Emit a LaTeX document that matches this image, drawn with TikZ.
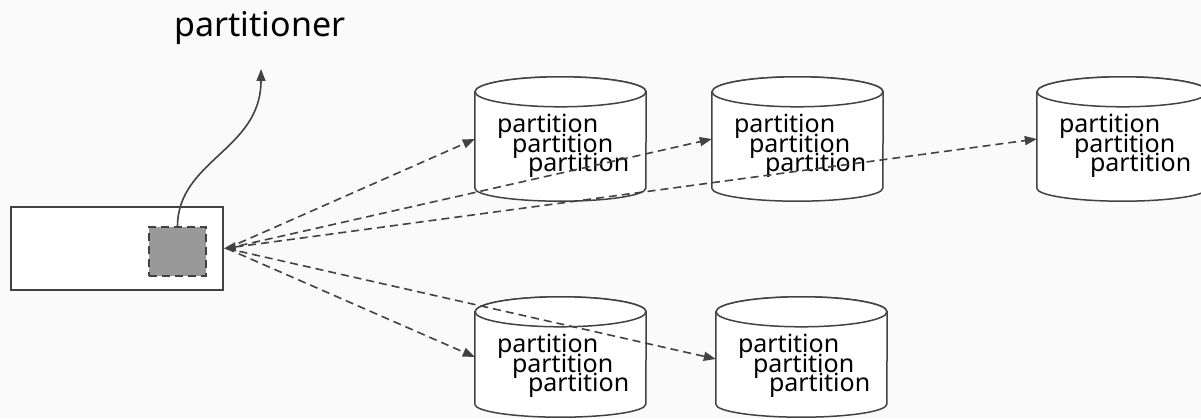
\documentclass[tikz,border=0pt]{standalone}
\usepackage{fontspec}
\setmainfont{Noto Sans}
\usetikzlibrary{arrows.meta}

\definecolor{bgcol}{HTML}{FAFAFA}
\definecolor{inkcol}{HTML}{424242}
\definecolor{blockcol}{HTML}{999999}

% tight leading that lets the stacked labels overlap
\newcommand{\stackfont}{\fontsize{25}{19.5}\selectfont\lineskiplimit-50pt\relax}

\tikzset{
  outline/.style={draw=inkcol, line width=1.5pt, fill=white},
  drumbox/.style={rectangle, inner sep=0pt, minimum width=171pt},
  drumtext/.style={anchor=base west, align=left, inner sep=0pt,
    font=\stackfont, text=black},
  flow/.style={draw=inkcol, line width=1.6pt, dash pattern=on 8pt off 5pt,
    -{Triangle[length=12pt,width=9pt]}},
  curvearrow/.style={draw=inkcol, line width=1.6pt,
    -{Triangle[length=12pt,width=9pt]}},
}

% cylinder outline around a named box: full top ellipse, half bottom ellipse
\newcommand{\drumoutline}[1]{%
  \draw[outline] ([yshift=-15pt]#1.north west) -- ([yshift=13pt]#1.south west)
    arc[start angle=180, end angle=360, x radius=85.5pt, y radius=13pt]
    -- ([yshift=-15pt]#1.north east)
    arc[start angle=0, end angle=180, x radius=85.5pt, y radius=15pt] -- cycle;
  \draw[outline] ([yshift=-15pt]#1.north) ellipse [x radius=85.5pt, y radius=15pt];
}
% three staggered labels; the base anchor sits on the last line
\newcommand{\drumlabel}[2]{%
  \node[drumtext] (#2) at ([xshift=22pt, yshift=-95pt]#1.north west)
    {partition\\\hspace*{15pt}partition\\\hspace*{31pt}partition};
}

\begin{document}
\begin{tikzpicture}[x=1pt, y=1pt]
  \fill[bgcol] (0,0) rectangle (1201,418);
  \useasboundingbox (0,0) rectangle (1201,418);

  % title
  \node[anchor=base, inner sep=0pt, font=\fontsize{34}{40}\selectfont] (title)
    at (260,381) {partitioner};

  % producer block with its partitioner part
  \node[rectangle, draw=inkcol, line width=1.5pt, fill=white,
        minimum width=212pt, minimum height=83pt, inner sep=0pt] (prod) at (117,169.5) {};
  \node[rectangle, draw=inkcol, line width=1.5pt, fill=blockcol,
        dash pattern=on 8pt off 5pt,
        minimum width=57pt, minimum height=49pt, inner sep=0pt] (part) at (177.5,166.5) {};

  % partition stores
  \node[drumbox, minimum height=124pt] (c1) at (560.5,279) {};
  \node[drumbox, minimum height=124pt] (c2) at (797.5,279) {};
  \node[drumbox, minimum height=124pt] (c3) at (1122.5,279) {};
  \node[drumbox, minimum height=120pt] (c4) at (560.5,61) {};
  \node[drumbox, minimum height=120pt] (c5) at (801.5,61) {};

  \drumoutline{c1}\drumoutline{c2}\drumoutline{c3}\drumoutline{c4}\drumoutline{c5}
  \drumlabel{c1}{t1}\drumlabel{c2}{t2}\drumlabel{c3}{t3}\drumlabel{c4}{t4}\drumlabel{c5}{t5}

  % curved arrow up from the partitioner
  \coordinate (up) at (261,349);
  \draw[curvearrow] (part.north) .. controls (178,258) and (261,268) .. (up);

  % dashed flows to the stores
  \draw[flow] ([xshift=3pt]prod.east) -- (c1.west);
  \draw[flow] ([xshift=3pt]prod.east) -- (c2.west);
  \draw[flow, {Triangle[length=12pt,width=9pt]}-{Triangle[length=12pt,width=9pt]}]
    (prod.east) -- (c3.west);
  \draw[flow] ([xshift=3pt]prod.east) -- (c4.west);
  \draw[flow] ([xshift=3pt]prod.east) -- ([yshift=-2pt]c5.west);
\end{tikzpicture}
\end{document}
